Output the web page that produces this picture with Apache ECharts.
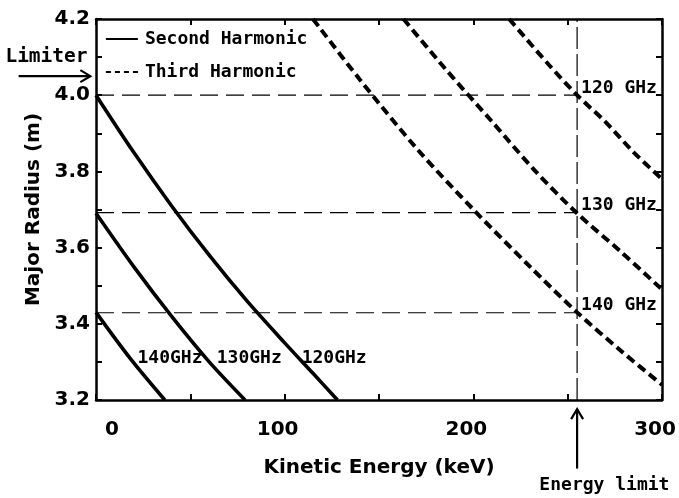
<!DOCTYPE html>
<html><head><meta charset="utf-8">
<script src="https://cdn.jsdelivr.net/npm/echarts@6/dist/echarts.min.js"></script>
<style>html,body{margin:0;padding:0;background:#fff}#c{width:679px;height:498px}</style>
</head><body><div id="c"></div>
<script>
// ---- data ----
const xTicks = [0, 100, 200, 300];
const yTicks = [3.2, 3.4, 3.6, 3.8, 4.0, 4.2];
// Second harmonic (solid)
const sh120E = [0, 20, 40, 60, 80, 100, 115, 128];
const sh120R = [4.00, 3.85, 3.71, 3.58, 3.46, 3.35, 3.27, 3.20];
const sh130E = [0, 20, 40, 60, 79];
const sh130R = [3.69, 3.55, 3.42, 3.30, 3.20];
const sh140E = [0, 18, 36.5];
const sh140R = [3.43, 3.31, 3.20];
// Third harmonic (dashed)
const th120E = [219, 240, 255, 270, 285, 300];
const th120R = [4.20, 4.08, 4.00, 3.93, 3.85, 3.78];
const th130E = [163, 185, 210, 233, 255, 278, 300];
const th130R = [4.20, 4.07, 3.93, 3.80, 3.69, 3.59, 3.49];
const th140E = [115, 140, 170, 200, 230, 255, 278, 300];
const th140R = [4.20, 4.04, 3.86, 3.70, 3.55, 3.43, 3.33, 3.24];
// reference resonance radii and limits
const resR = [4.0, 3.692, 3.429];
const resLabels = ['120 GHz', '130 GHz', '140 GHz'];
const energyLimit = 255;
const limiterR = 4.05;
const lowLabels = ['140GHz', '130GHz', '120GHz'];
const lowLabelE = [22, 64, 109];
const lowLabelR = 3.31;

const zip = (a, b) => a.map((v, i) => [v, b[i]]);
const mono = 'DejaVu Sans Mono';
const boldF = 'DejaVu Sans';

const chart = echarts.init(document.getElementById('c'), null, {renderer: 'canvas'});
const solid = {color: '#000', width: 3.6};
const dashed = {color: '#000', width: 4, type: [9, 5], cap: 'butt'};
const thin = {color: '#000', width: 1.2, type: [18, 8]};

const series = [];
[[sh120E, sh120R], [sh130E, sh130R], [sh140E, sh140R]].forEach(d => series.push({
  type: 'line', name: 'Second Harmonic', data: zip(d[0], d[1]), symbol: 'none', smooth: 0.3,
  lineStyle: solid, itemStyle: {color: '#000'}, z: 3
}));
[[th120E, th120R], [th130E, th130R], [th140E, th140R]].forEach(d => series.push({
  type: 'line', name: 'Third Harmonic', data: zip(d[0], d[1]), symbol: 'none', smooth: 0.3,
  lineStyle: dashed, itemStyle: {color: '#000'}, z: 3
}));
resR.forEach(r => series.push({
  type: 'line', name: 'ref', data: [[0, r], [energyLimit, r]], symbol: 'none',
  lineStyle: thin, z: 2, silent: true
}));
series.push({
  type: 'line', name: 'limit', data: [[energyLimit, 3.2], [energyLimit, 4.2]], symbol: 'none',
  lineStyle: {color: '#000', width: 1.2, type: [22, 5]}, z: 2, silent: true
});

const axisCommon = {
  axisLine: {show: true, onZero: false, lineStyle: {color: '#000', width: 2.5}},
  axisTick: {show: true, inside: true, length: 6, lineStyle: {color: '#000', width: 2}},
  splitLine: {show: false}
};

chart.setOption({
  animation: false,
  backgroundColor: '#fff',
  grid: {left: 96, right: 17, top: 19, bottom: 98},
  legend: {
    orient: 'vertical', left: 100, top: 25, itemWidth: 32, itemHeight: 14, itemGap: 15,
    textStyle: {fontFamily: mono, fontWeight: 'bold', fontSize: 18, color: '#000', padding: [0, 0, 0, 2]},
    data: [
      {name: 'Second Harmonic', itemStyle: {opacity: 0}, lineStyle: {width: 1.8, type: 'solid', color: '#000'}},
      {name: 'Third Harmonic', itemStyle: {opacity: 0}, lineStyle: {width: 1.8, type: [5, 4], color: '#000'}}
    ]
  },
  xAxis: [
    Object.assign({}, axisCommon, {
      type: 'value', min: 0, max: 300, interval: 100,
      minorTick: {show: true, splitNumber: 2, length: 6, lineStyle: {color: '#000', width: 2}},
      name: 'Kinetic Energy (keV)', nameLocation: 'middle', nameGap: 58,
      nameTextStyle: {fontFamily: boldF, fontWeight: 'bold', fontSize: 20, color: '#000'},
      axisLabel: {
        margin: 20, color: '#000', fontFamily: boldF, fontWeight: 'bold', fontSize: 20,
        formatter: v => v === 0 ? '{z|0}' : '{a|' + v + '}',
        rich: {
          z: {fontFamily: boldF, fontWeight: 'bold', fontSize: 20, color: '#000', padding: [0, 0, 0, 32]},
          a: {fontFamily: boldF, fontWeight: 'bold', fontSize: 20, color: '#000', padding: [0, 14, 0, 0]}
        }
      }
    }),
    Object.assign({}, axisCommon, {
      type: 'value', min: 0, max: 300, interval: 50, position: 'top',
      axisLabel: {show: false}
    })
  ],
  yAxis: [
    Object.assign({}, axisCommon, {
      type: 'value', min: 3.2, max: 4.2, interval: 0.2,
      minorTick: {show: true, splitNumber: 2, length: 6, lineStyle: {color: '#000', width: 2}},
      name: 'Major Radius (m)', nameLocation: 'middle', nameGap: 52,
      nameTextStyle: {fontFamily: boldF, fontWeight: 'bold', fontSize: 20, color: '#000'},
      axisLabel: {margin: 6, color: '#000', fontFamily: boldF, fontWeight: 'bold', fontSize: 20,
        formatter: v => v.toFixed(1)}
    }),
    Object.assign({}, axisCommon, {
      type: 'value', min: 3.2, max: 4.2, interval: 0.1, position: 'right',
      axisLabel: {show: false}
    })
  ],
  series: series
});

// annotations positioned through the chart's own scales
const px = (e, r) => chart.convertToPixel({xAxisIndex: 0, yAxisIndex: 0}, [e, r]);
const g = [];
const txt = (x, y, s, align, size) => g.push({type: 'text', x: x, y: y, z: 10,
  style: {text: s, fill: '#000', font: 'bold ' + (size || 18) + 'px "' + mono + '"', textAlign: align || 'left', textVerticalAlign: 'middle'}});
resR.forEach((r, i) => { const p = px(energyLimit, r); txt(p[0] + 4, p[1] - 7, resLabels[i]); });
lowLabels.forEach((s, i) => { const p = px(lowLabelE[i], lowLabelR); txt(p[0], p[1], s); });
// Limiter arrow
const l0 = px(-41, limiterR), l1 = px(-3, limiterR);
g.push({type: 'line', shape: {x1: l0[0], y1: l0[1], x2: l1[0], y2: l1[1]}, style: {stroke: '#000', lineWidth: 2.2}});
g.push({type: 'polyline', shape: {points: [[l1[0] - 10, l1[1] - 6], [l1[0], l1[1]], [l1[0] - 10, l1[1] + 6]]}, style: {stroke: '#000', lineWidth: 2.2, fill: null}});
const lt = px(-5, 4.10);
txt(lt[0] + 1, lt[1], 'Limiter', 'right', 19.5);
// Energy limit arrow
const a0 = px(energyLimit, 3.02), a1 = px(energyLimit, 3.176);
g.push({type: 'line', shape: {x1: a0[0], y1: a0[1], x2: a1[0], y2: a1[1]}, style: {stroke: '#000', lineWidth: 2.2}});
g.push({type: 'polyline', shape: {points: [[a1[0] - 6, a1[1] + 10], [a1[0], a1[1]], [a1[0] + 6, a1[1] + 10]]}, style: {stroke: '#000', lineWidth: 2.2, fill: null}});
const et = px(235, 2.977);
txt(et[0], et[1], 'Energy limit');
chart.setOption({graphic: g});
</script>
</body></html>
